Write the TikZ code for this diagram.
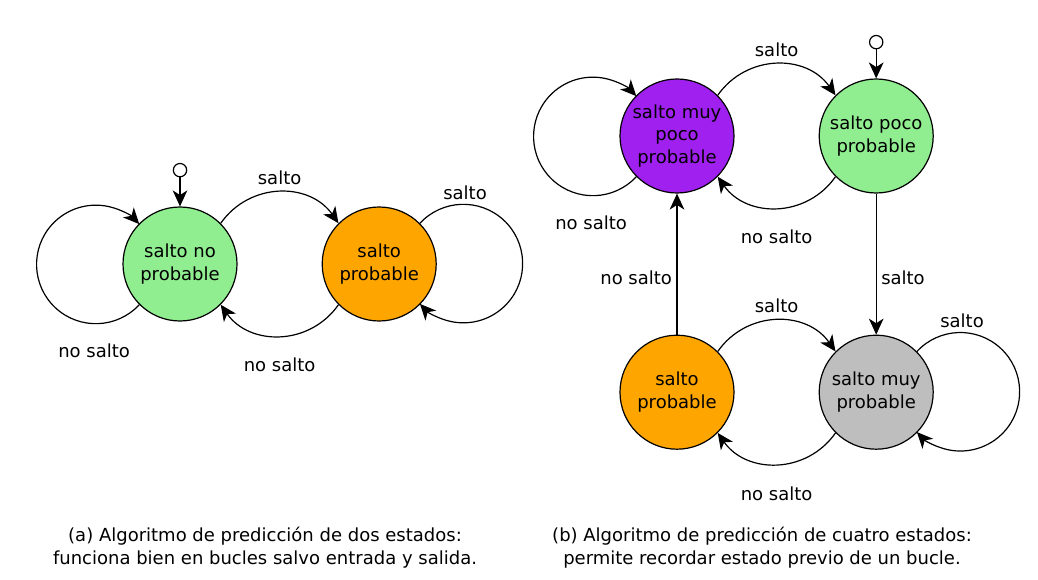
\documentclass[tikz,border=0pt]{standalone}
\usepackage{fontspec}
\setmainfont{DejaVu Sans}
\usetikzlibrary{arrows.meta, positioning}
\definecolor{EstadoVerde}{RGB}{144, 238, 144}
\definecolor{EstadoNaranja}{RGB}{255, 165, 0}
\definecolor{EstadoMorado}{RGB}{160, 32, 240}
\definecolor{EstadoGris}{RGB}{190, 190, 190}

\begin{document}
\begin{tikzpicture}[
        x=0.75pt, y=0.75pt,
        font=\fontsize{13.5}{16.8}\selectfont,
        node distance=63pt,
        estado/.style={circle, draw, line width=0.9pt, minimum size=85.5pt, inner sep=0pt, align=center},
        inicio/.style={circle, draw, fill=white, line width=0.9pt, minimum size=10pt, inner sep=0pt},
        line/.style={draw, -{Stealth[length=12pt, width=11pt, inset=3.5pt]}, line width=0.9pt}
    ]
        \useasboundingbox (0,0) rectangle (1038,579);

        % (a) dos estados
        \node [estado, fill=EstadoVerde] (noprob) at (180,315) {salto no\\probable};
        \node [estado, fill=EstadoNaranja, right=of noprob] (prob) {salto\\probable};
        \node [inicio, above=21.75pt of noprob] (ini1) {};

        \path [line] (ini1) -- (noprob);
        \path [line] (noprob.45) to[out=55, in=125, looseness=1.1] node[above=2pt] {salto} (prob.135);
        \path [line] (prob.225) to[out=-125, in=-55, looseness=1.1] node[below=13pt] {no salto} (noprob.315);
        \path [line] (noprob.225) arc[start angle=-42.85, end angle=-317.15, radius=44.45pt];
        \path [line] (prob.45) arc[start angle=137.15, end angle=-137.15, radius=44.45pt];
        \node [below left=25.5pt and 3.5pt of noprob] (lazo1) {no salto};
        \node [above right=14pt and 14pt of prob] (lazo2) {salto};

        % (b) cuatro estados
        \node [estado, fill=EstadoMorado] (muypoco) at (677,443) {salto muy\\poco\\probable};
        \node [estado, fill=EstadoVerde, right=of muypoco] (poco) {salto poco\\probable};
        \node [estado, fill=EstadoNaranja, below=105.75pt of muypoco] (prob2) {salto\\probable};
        \node [estado, fill=EstadoGris, right=of prob2] (muy) {salto muy\\probable};
        \node [inicio, above=21.75pt of poco] (ini2) {};

        \path [line] (ini2) -- (poco);
        \path [line] (muypoco.45) to[out=55, in=125, looseness=1.1] node[above=2pt] {salto} (poco.135);
        \path [line] (poco.225) to[out=-125, in=-55, looseness=1.1] node[below=13pt] {no salto} (muypoco.315);
        \path [line] (prob2.45) to[out=55, in=125, looseness=1.1] node[above=2pt] {salto} (muy.135);
        \path [line] (muy.225) to[out=-125, in=-55, looseness=1.1] node[below=13pt] {no salto} (prob2.315);
        \path [line] (poco) -- node[right, pos=0.6] {salto} (muy);
        \path [line] (prob2) -- node[left, pos=0.4] {no salto} (muypoco);
        \path [line] (muypoco.225) arc[start angle=-42.85, end angle=-317.15, radius=44.45pt];
        \path [line] (muy.45) arc[start angle=137.15, end angle=-137.15, radius=44.45pt];
        \node [below left=25.5pt and 3.5pt of muypoco] (lazo3) {no salto};
        \node [above right=14pt and 14pt of muy] (lazo4) {salto};

        % pies
        \node [align=center] (pie1) at (265,31.5) {(a) Algoritmo de predicción de dos estados:\\funciona bien en bucles salvo entrada y salida.};
        \node [align=center] (pie2) at (762,31.5) {(b) Algoritmo de predicción de cuatro estados:\\permite recordar estado previo de un bucle.};
    \end{tikzpicture}
\end{document}
